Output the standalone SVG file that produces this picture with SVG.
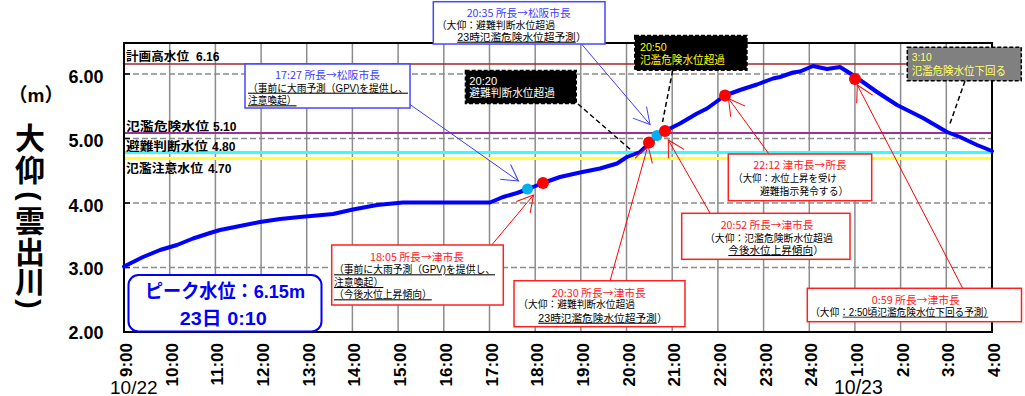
<svg xmlns="http://www.w3.org/2000/svg" width="1025" height="396" viewBox="0 0 1025 396">
<style>
text{font-family:"Liberation Sans","Noto Sans CJK JP",sans-serif;}
.grid{stroke:#8c8c8c;stroke-width:1.5;}
.hdash{stroke:#8c8c8c;stroke-width:1.5;stroke-dasharray:6 3;}
.ay{font-size:18px;font-weight:bold;text-anchor:middle;fill:#000;}
.ax{font-size:17px;font-weight:bold;text-anchor:end;fill:#000;}
.lvl{font-size:12px;font-weight:bold;fill:#000;}
.rbox{fill:#fff;stroke:#ff2020;stroke-width:1.5;}
.bbox{fill:#fff;stroke:#4646ff;stroke-width:1.5;}
.kbox{fill:#000;stroke:#000;stroke-width:2;stroke-dasharray:4 2;}
.gbox{fill:#808080;stroke:#000;stroke-width:1.5;stroke-dasharray:4 2;}
.t{font-size:10.5px;fill:#000;}
.tr{font-family:"Noto Sans CJK JP","Liberation Sans",sans-serif;font-size:10.5px;fill:#ff2020;text-anchor:middle;}
.tb{font-family:"Noto Sans CJK JP","Liberation Sans",sans-serif;font-size:10.5px;fill:#3c3cff;text-anchor:middle;}
.tw{font-size:11px;fill:#fff;}
.ty{font-size:11px;fill:#ffff00;}
.tgy{font-size:11px;fill:#ffff66;}
.u{text-decoration:underline;}
.ul{stroke:#000;stroke-width:0.8;}
.ra{stroke:#ff0000;stroke-width:1;fill:none;marker-end:url(#mr);}
.ba{stroke:#3c3cff;stroke-width:1;fill:none;marker-end:url(#mb);}
.dl{stroke:#000;stroke-width:1.5;stroke-dasharray:5 3;fill:none;}
.big{font-size:30px;font-weight:bold;text-anchor:middle;dominant-baseline:central;fill:#000;}
</style>
<defs>
<marker id="mr" markerUnits="userSpaceOnUse" markerWidth="20" markerHeight="24" viewBox="-18 -12 20 24" refX="0" refY="0" orient="auto"><path d="M-16,-9 L0,0 L-16,9" fill="none" stroke="#ff0000" stroke-width="1"/></marker>
<marker id="mb" markerUnits="userSpaceOnUse" markerWidth="20" markerHeight="24" viewBox="-18 -12 20 24" refX="0" refY="0" orient="auto"><path d="M-16,-9 L0,0 L-16,9" fill="none" stroke="#3c3cff" stroke-width="1"/></marker>
</defs>
<rect width="1025" height="396" fill="#fff"/>

<g id="grid">
<line class="grid" x1="169.7" y1="43" x2="169.7" y2="332"/>
<line class="grid" x1="215.4" y1="43" x2="215.4" y2="332"/>
<line class="grid" x1="261.1" y1="43" x2="261.1" y2="332"/>
<line class="grid" x1="306.7" y1="43" x2="306.7" y2="332"/>
<line class="grid" x1="352.4" y1="43" x2="352.4" y2="332"/>
<line class="grid" x1="398.1" y1="43" x2="398.1" y2="332"/>
<line class="grid" x1="443.8" y1="43" x2="443.8" y2="332"/>
<line class="grid" x1="489.5" y1="43" x2="489.5" y2="332"/>
<line class="grid" x1="535.2" y1="43" x2="535.2" y2="332"/>
<line class="grid" x1="580.8" y1="43" x2="580.8" y2="332"/>
<line class="grid" x1="626.5" y1="43" x2="626.5" y2="332"/>
<line class="grid" x1="672.2" y1="43" x2="672.2" y2="332"/>
<line class="grid" x1="717.9" y1="43" x2="717.9" y2="332"/>
<line class="grid" x1="763.6" y1="43" x2="763.6" y2="332"/>
<line class="grid" x1="809.3" y1="43" x2="809.3" y2="332"/>
<line class="grid" x1="854.9" y1="43" x2="854.9" y2="332"/>
<line class="grid" x1="900.6" y1="43" x2="900.6" y2="332"/>
<line class="grid" x1="946.3" y1="43" x2="946.3" y2="332"/>
<line class="hdash" x1="124" y1="74" x2="992" y2="74"/>
<line class="hdash" x1="124" y1="138.5" x2="992" y2="138.5"/>
<line class="hdash" x1="124" y1="203" x2="992" y2="203"/>
<line class="hdash" x1="124" y1="267.5" x2="992" y2="267.5"/>
<line x1="124" y1="74" x2="130" y2="74" stroke="#000" stroke-width="1.5"/>
<line x1="124" y1="138.5" x2="130" y2="138.5" stroke="#000" stroke-width="1.5"/>
<line x1="124" y1="203" x2="130" y2="203" stroke="#000" stroke-width="1.5"/>
<line x1="124" y1="267.5" x2="130" y2="267.5" stroke="#000" stroke-width="1.5"/>
</g>

<g id="levels">
<line x1="124" y1="64" x2="992" y2="64" stroke="#a02828" stroke-width="1.5"/>
<line x1="124" y1="133" x2="992" y2="133" stroke="#993399" stroke-width="2"/>
<line x1="124" y1="152.5" x2="992" y2="152.5" stroke="#33ffff" stroke-width="3"/>
<line x1="124" y1="158.5" x2="992" y2="158.5" stroke="#ffff33" stroke-width="3"/>
<text class="lvl" x="126" y="61" textLength="63" lengthAdjust="spacingAndGlyphs">計画高水位</text>
<text class="lvl" x="196" y="61">6.16</text>
<text class="lvl" x="126" y="131" textLength="83" lengthAdjust="spacingAndGlyphs">氾濫危険水位</text>
<text class="lvl" x="213" y="131">5.10</text>
<text class="lvl" x="126" y="151" textLength="82" lengthAdjust="spacingAndGlyphs">避難判断水位</text>
<text class="lvl" x="212" y="151">4.80</text>
<text class="lvl" x="126" y="173" textLength="77" lengthAdjust="spacingAndGlyphs">氾濫注意水位</text>
<text class="lvl" x="208" y="173">4.70</text>
</g>

<rect x="124" y="43" width="868" height="289" fill="none" stroke="#000" stroke-width="2"/>

<g id="axes">
<text class="ay" x="86" y="82.5">6.00</text>
<text class="ay" x="86" y="147">5.00</text>
<text class="ay" x="86" y="211.5">4.00</text>
<text class="ay" x="86" y="275">3.00</text>
<text class="ay" x="86" y="339">2.00</text>
<text x="36" y="102" font-size="19" font-weight="bold" text-anchor="middle">（m）</text>
<text class="big" x="30" y="138">大</text>
<text class="big" x="30" y="170">仰</text>
<text class="big" x="30" y="196" transform="rotate(90 30 196)" style="font-size:28px">(</text>
<text class="big" x="30" y="221">雲</text>
<text class="big" x="30" y="252">出</text>
<text class="big" x="30" y="282">川</text>
<text class="big" x="30" y="304" transform="rotate(90 30 304)" style="font-size:28px">)</text>
<text class="ax" transform="translate(132,343) rotate(-90)">9:00</text>
<text class="ax" transform="translate(177.7,343) rotate(-90)">10:00</text>
<text class="ax" transform="translate(223.4,343) rotate(-90)">11:00</text>
<text class="ax" transform="translate(269.1,343) rotate(-90)">12:00</text>
<text class="ax" transform="translate(314.7,343) rotate(-90)">13:00</text>
<text class="ax" transform="translate(360.4,343) rotate(-90)">14:00</text>
<text class="ax" transform="translate(406.1,343) rotate(-90)">15:00</text>
<text class="ax" transform="translate(451.8,343) rotate(-90)">16:00</text>
<text class="ax" transform="translate(497.5,343) rotate(-90)">17:00</text>
<text class="ax" transform="translate(543.2,343) rotate(-90)">18:00</text>
<text class="ax" transform="translate(588.8,343) rotate(-90)">19:00</text>
<text class="ax" transform="translate(634.5,343) rotate(-90)">20:00</text>
<text class="ax" transform="translate(680.2,343) rotate(-90)">21:00</text>
<text class="ax" transform="translate(725.9,343) rotate(-90)">22:00</text>
<text class="ax" transform="translate(771.6,343) rotate(-90)">23:00</text>
<text class="ax" transform="translate(817.3,343) rotate(-90)">24:00</text>
<text class="ax" transform="translate(862.9,343) rotate(-90)">1:00</text>
<text class="ax" transform="translate(908.6,343) rotate(-90)">2:00</text>
<text class="ax" transform="translate(954.3,343) rotate(-90)">3:00</text>
<text class="ax" transform="translate(1000,343) rotate(-90)">4:00</text>
<text x="110" y="394" font-size="19">10/22</text>
<text x="834" y="394" font-size="19.5">10/23</text>
</g>

<g id="water-level">
<polyline fill="none" stroke="#0000ff" stroke-width="4" stroke-linejoin="round" stroke-linecap="round" points="124,266.5 143,257 160,250 177,245 193,238.5 210,233 220,230 240,226 260,222 280,219 300,217 333,214 353,209.5 377,205 403,202.5 490,202.5 503,197 517,193 528,189 543,183 560,177 580,172.5 600,168.5 617,163.5 627,157 640,152 650,142.5 657,136 665,131 680,123.5 697,113.5 707,108.5 725,95.5 740,90 757,84.5 773,78.5 780,77 793,72.5 800,71.5 813,66 827,69 840,67 852,74.5 860,80 877,92 897,105 923,118 947,132 960,137 977,145 992,151"/>
<circle cx="527.5" cy="189" r="5.5" fill="#00b0f0"/>
<circle cx="543" cy="183" r="6" fill="#ff0000"/>
<circle cx="649" cy="142.5" r="6" fill="#ff0000"/>
<circle cx="657" cy="135.5" r="5.5" fill="#00b0f0"/>
<circle cx="665" cy="131" r="6" fill="#ff0000"/>
<circle cx="725" cy="95.5" r="6" fill="#ff0000"/>
<circle cx="855" cy="79" r="6" fill="#ff0000"/>
</g>

<g id="connectors">
<line class="ba" x1="410" y1="104.5" x2="518.5" y2="181"/>
<line class="ba" x1="581.5" y1="44" x2="650" y2="124.5"/>
<line class="ra" x1="491.7" y1="245" x2="533.5" y2="195"/>
<line class="ra" x1="610" y1="281" x2="648" y2="145.5"/>
<line class="ra" x1="710" y1="213" x2="668.3" y2="140"/>
<line class="ra" x1="769" y1="154" x2="728.5" y2="98.5"/>
<line class="ra" x1="962.7" y1="288.3" x2="857.3" y2="85"/>
<line class="dl" x1="578" y1="104" x2="631" y2="150"/>
<line class="dl" x1="672.7" y1="70.5" x2="662.5" y2="122"/>
<line class="dl" x1="965" y1="81" x2="950" y2="123.5"/>
</g>

<g id="peak">
<rect x="128.5" y="275" width="193" height="56.5" rx="10" fill="#fff" stroke="#0000ff" stroke-width="2"/>
<text x="225" y="298.3" font-size="19" font-weight="bold" fill="#0000ff" text-anchor="middle" textLength="160" lengthAdjust="spacingAndGlyphs">ピーク水位：6.15m</text>
<text x="223.3" y="325" font-size="19" font-weight="bold" fill="#0000ff" text-anchor="middle" textLength="87" lengthAdjust="spacingAndGlyphs">23日 0:10</text>
</g>

<g id="n1727">
<rect class="bbox" x="245" y="64" width="165" height="44"/>
<text class="tb" x="327.5" y="79" textLength="105" lengthAdjust="spacingAndGlyphs">17:27 所長→松阪市長</text>
<text class="t u" x="248" y="91.7" textLength="160" lengthAdjust="spacingAndGlyphs">（事前に大雨予測（GPV)を提供し、</text>
<text class="t u" x="248" y="104.3" textLength="48.5" lengthAdjust="spacingAndGlyphs">注意喚起）</text>
</g>

<g id="n2035">
<rect class="bbox" x="433.3" y="1.7" width="171.7" height="42.3"/>
<text class="tb" x="518.7" y="17.3" textLength="104" lengthAdjust="spacingAndGlyphs">20:35 所長→松阪市長</text>
<text class="t" x="436.7" y="29.3" textLength="118.3" lengthAdjust="spacingAndGlyphs">（大仰：避難判断水位超過</text>
<text class="t u" x="457.3" y="40.7" textLength="118.4" lengthAdjust="spacingAndGlyphs">23時氾濫危険水位超予測</text>
<text class="t" x="575.9" y="40.7">）</text>
</g>

<g id="n2020">
<rect class="kbox" x="465.7" y="70.7" width="110.3" height="32.6"/>
<text class="tw" x="469.3" y="85" textLength="28" lengthAdjust="spacingAndGlyphs">20:20</text>
<text class="tw" x="469.3" y="97.3" textLength="85.7" lengthAdjust="spacingAndGlyphs">避難判断水位超過</text>
</g>

<g id="n2050">
<rect class="kbox" x="635" y="35.7" width="111.7" height="34.3"/>
<text class="ty" x="640" y="50.7" textLength="26.7" lengthAdjust="spacingAndGlyphs">20:50</text>
<text class="ty" x="640" y="64" textLength="85" lengthAdjust="spacingAndGlyphs">氾濫危険水位超過</text>
</g>

<g id="n0310">
<rect class="gbox" x="907.3" y="47.3" width="114" height="33.4"/>
<text class="tgy" x="911.7" y="60.7" textLength="20" lengthAdjust="spacingAndGlyphs">3:10</text>
<text class="tgy" x="911.7" y="75" textLength="94.3" lengthAdjust="spacingAndGlyphs">氾濫危険水位下回る</text>
</g>

<g id="n1805">
<rect class="rbox" x="331.7" y="245" width="171.6" height="60"/>
<text class="tr" x="417" y="260.7" textLength="94" lengthAdjust="spacingAndGlyphs">18:05 所長→津市長</text>
<text class="t u" x="334" y="273.3" textLength="161" lengthAdjust="spacingAndGlyphs">（事前に大雨予測（GPV)を提供し、</text>
<text class="t u" x="334" y="286" textLength="49.3" lengthAdjust="spacingAndGlyphs">注意喚起）</text>
<text class="t u" x="334" y="298.3" textLength="97.7" lengthAdjust="spacingAndGlyphs">（今後水位上昇傾向）</text>
</g>

<g id="n2030">
<rect class="rbox" x="514" y="280.7" width="171" height="46"/>
<text class="tr" x="598.8" y="296.7" textLength="94.3" lengthAdjust="spacingAndGlyphs">20:30 所長→津市長</text>
<text class="t" x="518.3" y="308.3" textLength="116.7" lengthAdjust="spacingAndGlyphs">（大仰：避難判断水位超過</text>
<text class="t u" x="538.3" y="321.7" textLength="118.4" lengthAdjust="spacingAndGlyphs">23時氾濫危険水位超予測</text>
<text class="t" x="656.9" y="321.7">）</text>
</g>

<g id="n2052">
<rect class="rbox" x="681.7" y="213.3" width="168.3" height="46"/>
<text class="tr" x="767" y="229.3" textLength="92.6" lengthAdjust="spacingAndGlyphs">20:52 所長→津市長</text>
<text class="t" x="705" y="241.7" textLength="127.7" lengthAdjust="spacingAndGlyphs">（大仰：氾濫危険断水位超過</text>
<text class="t u" x="728.3" y="254" textLength="84.7" lengthAdjust="spacingAndGlyphs">今後水位上昇傾向</text>
<text class="t" x="813.2" y="254">）</text>
</g>

<g id="n2212">
<rect class="rbox" x="728.3" y="154" width="143.4" height="46.7"/>
<text class="tr" x="800" y="169.3" textLength="93.4" lengthAdjust="spacingAndGlyphs">22:12 津市長→所長</text>
<text class="t" x="733.3" y="181.7" textLength="103.4" lengthAdjust="spacingAndGlyphs">（大仰：水位上昇を受け</text>
<text class="t" x="760" y="195" textLength="88.3" lengthAdjust="spacingAndGlyphs">避難指示発令する）</text>
</g>

<g id="n0059">
<rect class="rbox" x="807.3" y="288.3" width="214.2" height="33.4"/>
<text class="tr" x="915.8" y="304" textLength="88.3" lengthAdjust="spacingAndGlyphs">0:59 所長→津市長</text>
<text class="t" x="810.2" y="315.7" textLength="183" lengthAdjust="spacingAndGlyphs">（大仰：2:50頃氾濫危険水位下回る予測）</text>
<line class="ul" x1="842.7" y1="317.2" x2="988.3" y2="317.2"/>
</g>
</svg>
